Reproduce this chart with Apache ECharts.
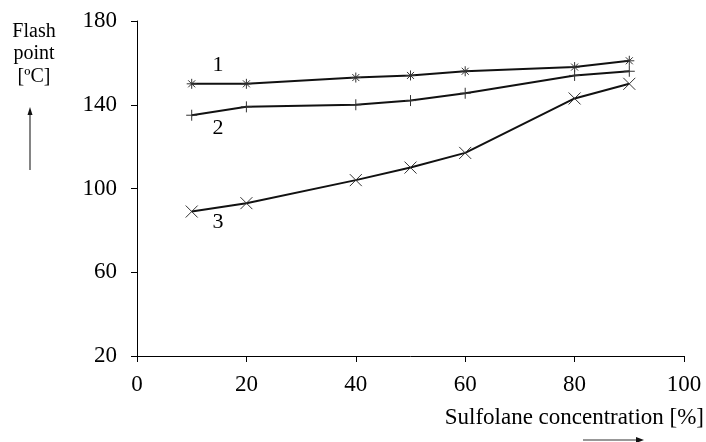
<!DOCTYPE html>
<html><head><meta charset="utf-8">
<script src="https://cdn.jsdelivr.net/npm/echarts@6/dist/echarts.min.js"></script>
<style>html,body{margin:0;padding:0;background:#fff}#c{width:706px;height:442px}</style>
</head><body><div id="c"></div>
<script>
const concentrations = [10, 20, 40, 50, 60, 80, 90];
const curve1 = [150, 150, 153, 154, 156, 158, 161];
const curve2 = [135, 139, 140, 142, 145.5, 154, 156];
const curve3 = [89, 93, 104, 110, 117, 143, 150];
const yTicks = [20, 60, 100, 140, 180];
const xTicks = [0, 20, 40, 60, 80, 100];

const asterisk = 'path://M0,5L10,5M5,0L5,10M1.5,1.5L8.5,8.5M8.5,1.5L1.5,8.5';
const plus = 'path://M0,5L10,5M5,0L5,10';
const cross = 'path://M0,0L10,10M10,0L0,10';
const font = '"Liberation Serif", "Times New Roman", serif';

function mk(name, vals, sym, size) {
  return {
    name, type: 'line', data: concentrations.map((x, i) => [x, vals[i]]),
    symbol: sym, symbolSize: size, showSymbol: true,
    lineStyle: { color: '#111', width: 2 },
    itemStyle: { color: '#111', borderColor: '#333', borderWidth: 1 },
    animation: false
  };
}

const chart = echarts.init(document.getElementById('c'));
chart.setOption({
  backgroundColor: '#fff',
  animation: false,
  grid: { left: 137, right: 22, top: 21, bottom: 86 },
  xAxis: {
    type: 'value', min: xTicks[0], max: xTicks[xTicks.length - 1], interval: 20,
    axisLine: { lineStyle: { color: '#000', width: 1 } },
    axisTick: { show: true, length: 6, lineStyle: { color: '#000' } },
    axisLabel: { color: '#000', fontFamily: font, fontSize: 23, margin: 17 },
    splitLine: { show: false }
  },
  yAxis: {
    type: 'value', min: yTicks[0], max: yTicks[yTicks.length - 1], interval: 40,
    axisLine: { show: true, lineStyle: { color: '#000', width: 1 } },
    axisTick: { show: true, length: 6, lineStyle: { color: '#000' } },
    axisLabel: { color: '#000', fontFamily: font, fontSize: 23, margin: 20 },
    splitLine: { show: false }
  },
  series: [
    mk('1', curve1, asterisk, 10),
    mk('2', curve2, plus, 11),
    mk('3', curve3, cross, 12)
  ],
  graphic: [
    { type: 'text', x: 218, y: 65, style: { text: '1', font: '22px ' + font, fill: '#000', align: 'center', verticalAlign: 'middle' } },
    { type: 'text', x: 218, y: 128, style: { text: '2', font: '22px ' + font, fill: '#000', align: 'center', verticalAlign: 'middle' } },
    { type: 'text', x: 218, y: 222, style: { text: '3', font: '22px ' + font, fill: '#000', align: 'center', verticalAlign: 'middle' } },
    { type: 'text', x: 34, y: 20, style: { text: 'Flash\npoint\n[ºC]', font: '20px ' + font, fill: '#000', align: 'center', lineHeight: 22.5 } },
    { type: 'line', shape: { x1: 30, y1: 170, x2: 30, y2: 114 }, style: { stroke: '#333', lineWidth: 1.2 } },
    { type: 'polygon', shape: { points: [[30, 107], [27.5, 115], [32.5, 115]] }, style: { fill: '#111' } },
    { type: 'text', x: 704, y: 418, style: { text: 'Sulfolane concentration [%]', font: '23px ' + font, fill: '#000', align: 'right', verticalAlign: 'middle' } },
    { type: 'line', shape: { x1: 583, y1: 440, x2: 636, y2: 440 }, style: { stroke: '#333', lineWidth: 1.2 } },
    { type: 'polygon', shape: { points: [[644, 440], [636, 437], [636, 443]] }, style: { fill: '#111' } }
  ]
});
</script></body></html>
